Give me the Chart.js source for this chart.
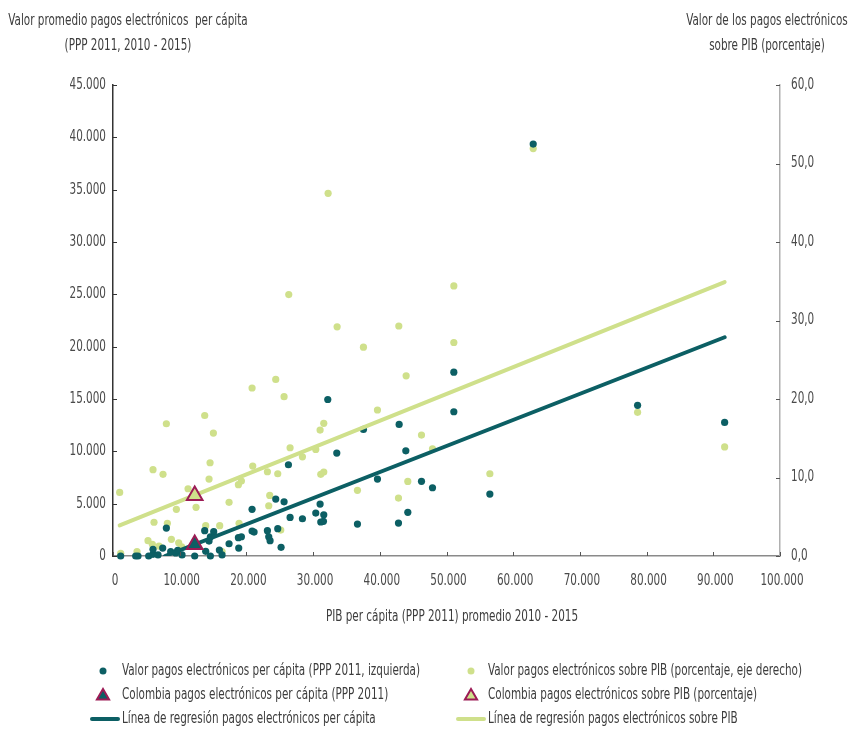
<!DOCTYPE html>
<html>
<head>
<meta charset="utf-8">
<script src="https://cdn.jsdelivr.net/npm/chart.js@4.4.1/dist/chart.umd.min.js"></script>
<style>
  html, body { margin: 0; padding: 0; background: #fff; }
  #wrap { width: 852px; height: 730px; position: relative; }
</style>
</head>
<body>
<div id="wrap"><canvas id="c" width="852" height="730"></canvas></div>
<script>
// PIB per cápita (PPP 2011) and valor pagos electrónicos per cápita (eje izquierdo)
const perCapitaX = [1150, 3400, 3750, 5350, 6000, 6000, 6750, 7450, 8000, 8650, 9400, 9700,
  10350, 12250, 13750, 13900, 14400, 14600, 14600, 15100, 15950, 16350, 17400, 18800, 18850,
  19250, 20850, 20850, 21150, 23150, 23350, 23550, 24400, 24700, 25200, 25650, 26300, 26550,
  28400, 30400, 31050, 31150, 31550, 31600, 32200, 33550, 36650, 37550, 39650, 42800, 42900,
  43900, 44200, 46250, 47900, 51100, 51100, 56500, 63000, 78650, 91700];
const perCapitaY = [0, 0, 0, 0, 160, 640, 100, 760, 2670, 410, 290, 540,
  100, 0, 2420, 450, 1430, 1840, 0, 2320, 570, 100, 1170, 1750, 760,
  1840, 4460, 2390, 2290, 2420, 1840, 1460, 5440, 2610, 830, 5180, 8720, 3690,
  3560, 4100, 4960, 3250, 3310, 3940, 14950, 9830, 3050, 12090, 7350, 3150, 12570,
  10050, 4170, 7130, 6520, 17560, 13780, 5920, 39360, 14400, 12760];

// PIB per cápita (PPP 2011) and pagos electrónicos sobre PIB, % (eje derecho)
const pibShareX = [1000, 1150, 3600, 5250, 5900, 6000, 6150, 6900, 7500, 8000, 8150, 8750,
  9500, 9850, 10300, 11250, 12450, 13750, 13900, 14400, 14550, 15050, 16000, 16350, 17400,
  18800, 18900, 19250, 20850, 20950, 23150, 23350, 23500, 24400, 24700, 25150, 25650, 26350,
  26550, 28400, 30400, 31050, 31150, 31600, 31600, 32250, 33600, 36650, 37550, 39650, 42800,
  42850, 43950, 44200, 46250, 47900, 51100, 51100, 56500, 63000, 78650, 91700];
const pibShareY = [8.1, 0.34, 0.55, 1.95, 1.49, 11.0, 4.3, 1.27, 10.4, 16.85, 4.16, 2.12,
  5.94, 1.69, 1.18, 8.57, 6.2, 17.9, 3.86, 9.8, 11.88, 15.66, 3.86, 0.55, 6.84,
  9.08, 4.16, 9.55, 21.4, 11.46, 10.73, 6.4, 7.72, 22.5, 10.48, 3.3, 20.3, 33.3,
  13.79, 12.64, 13.58, 16.04, 10.4, 16.9, 10.69, 46.2, 29.2, 8.36, 26.6, 18.6, 7.38,
  29.3, 22.95, 9.5, 15.4, 13.66, 34.4, 27.2, 10.48, 51.9, 18.3, 13.9];

// Colombia
const colombiaX = [12250];
const colombiaPerCapita = [1100];
const colombiaPibShare = [7.7];

// Regression lines (end points)
const trendPerCapitaX = [7800, 91700];
const trendPerCapitaY = [0, 20900];
const trendPibShareX = [1000, 91700];
const trendPibShareY = [3.9, 34.9];

// Axis ticks
const xTicks = [0, 10000, 20000, 30000, 40000, 50000, 60000, 70000, 80000, 90000, 100000];
const leftTicks = [0, 5000, 10000, 15000, 20000, 25000, 30000, 35000, 40000, 45000];
const rightTicks = [0, 10, 20, 30, 40, 50, 60];

// Texts
const leftTitle = ['Valor promedio pagos electrónicos  per cápita', '(PPP 2011, 2010 - 2015)'];
const rightTitle = ['Valor de los pagos electrónicos', 'sobre PIB (porcentaje)'];
const xTitle = 'PIB per cápita (PPP 2011) promedio 2010 - 2015';
const legendLabels = [
  'Valor pagos electrónicos per cápita (PPP 2011, izquierda)',
  'Valor pagos electrónicos sobre PIB (porcentaje, eje derecho)',
  'Colombia pagos electrónicos per cápita (PPP 2011)',
  'Colombia pagos electrónicos sobre PIB (porcentaje)',
  'Línea de regresión pagos electrónicos per cápita',
  'Línea de regresión pagos electrónicos sobre PIB'
];

const TEAL = '#0c5f64';
const LIME = '#cfe08b';
const CRIMSON = '#9c1b55';
const TEXT = '#3c3c3c';
const TICK_TEXT = '#4a4a4a';
const FONT = "'Liberation Sans Narrow', 'DejaVu Sans Condensed', 'Arial Narrow', 'Liberation Sans', sans-serif";

const pts = (xs, ys) => xs.map((x, i) => ({ x, y: ys[i] }));
const thousands = v => String(Math.round(v)).replace(/\B(?=(\d{3})+(?!\d))/g, '.');
const decimalComma = v => v.toFixed(1).replace('.', ',');

// draw text horizontally compressed by a common factor
let squeeze = 1;
function drawText(ctx, str, x, y, align) {
  ctx.save();
  ctx.translate(x, y);
  ctx.scale(squeeze, 1);
  ctx.textAlign = align;
  ctx.textBaseline = 'middle';
  ctx.fillText(str, 0, 0);
  ctx.restore();
}

const decor = {
  id: 'decor',
  afterDraw(chart) {
    const ctx = chart.ctx;
    const a = chart.chartArea;
    const sx = chart.scales.x, sy = chart.scales.y, sy1 = chart.scales.y1;
    ctx.save();

    // inner tick marks
    ctx.lineWidth = 1;
    ctx.strokeStyle = '#333';
    leftTicks.forEach(v => {
      const p = Math.round(sy.getPixelForValue(v)) + 0.5;
      ctx.beginPath(); ctx.moveTo(a.left, p); ctx.lineTo(a.left + 4, p); ctx.stroke();
    });
    ctx.strokeStyle = '#555';
    rightTicks.forEach(v => {
      const p = Math.round(sy1.getPixelForValue(v)) + 0.5;
      ctx.beginPath(); ctx.moveTo(a.right - 4, p); ctx.lineTo(a.right, p); ctx.stroke();
    });
    xTicks.forEach(v => {
      const p = Math.round(sx.getPixelForValue(v)) + 0.5;
      ctx.beginPath(); ctx.moveTo(p, a.bottom); ctx.lineTo(p, a.bottom - 4); ctx.stroke();
    });

    ctx.font = '15px ' + FONT;
    squeeze = 298 / ctx.measureText(legendLabels[0]).width;

    // tick labels, placed by the scales
    ctx.fillStyle = TICK_TEXT;
    leftTicks.forEach(v => drawText(ctx, thousands(v), a.left - 7, sy.getPixelForValue(v), 'right'));
    rightTicks.forEach(v => drawText(ctx, decimalComma(v), a.right + 11, sy1.getPixelForValue(v), 'left'));
    xTicks.forEach(v => drawText(ctx, thousands(v), sx.getPixelForValue(v) + 2, a.bottom + 25, 'center'));

    // titles and legend
    ctx.fillStyle = TEXT;
    drawText(ctx, leftTitle[0], 128, 21, 'center');
    drawText(ctx, leftTitle[1], 128, 46, 'center');
    drawText(ctx, rightTitle[0], 767, 21, 'center');
    drawText(ctx, rightTitle[1], 767, 46, 'center');
    drawText(ctx, xTitle, 452, 617, 'center');

    const rows = [671, 695, 719];
    const colMark = [103, 471];
    const colText = [122, 488];
    legendLabels.forEach((label, i) => {
      const r = Math.floor(i / 2), c = i % 2;
      const y = rows[r];
      const color = c === 0 ? TEAL : LIME;
      if (r === 0) {
        ctx.beginPath(); ctx.arc(colMark[c], y, 3.5, 0, Math.PI * 2);
        ctx.fillStyle = color; ctx.fill();
      } else if (r === 1) {
        const cx = colMark[c], cy = y + 1, s = 7;
        ctx.beginPath();
        ctx.moveTo(cx, cy - s);
        ctx.lineTo(cx + s * 0.87, cy + s * 0.5);
        ctx.lineTo(cx - s * 0.87, cy + s * 0.5);
        ctx.closePath();
        ctx.fillStyle = color; ctx.fill();
        ctx.lineWidth = 2; ctx.strokeStyle = CRIMSON; ctx.stroke();
      } else {
        ctx.beginPath();
        ctx.moveTo(colMark[c] - 11 + (c ? -2 : 0), y);
        ctx.lineTo(colText[c] - 4, y);
        ctx.lineWidth = 4; ctx.lineCap = 'round'; ctx.strokeStyle = color; ctx.stroke();
      }
      ctx.fillStyle = TEXT;
      drawText(ctx, label, colText[c], y, 'left');
    });
    ctx.restore();
  }
};

new Chart(document.getElementById('c'), {
  type: 'scatter',
  data: {
    datasets: [
      {
        label: legendLabels[2], data: pts(colombiaX, colombiaPerCapita), yAxisID: 'y',
        pointStyle: 'triangle', pointRadius: 9, borderWidth: 2,
        backgroundColor: TEAL, borderColor: CRIMSON, order: 0, clip: false
      },
      {
        label: legendLabels[3], data: pts(colombiaX, colombiaPibShare), yAxisID: 'y1',
        pointStyle: 'triangle', pointRadius: 9, borderWidth: 2,
        backgroundColor: LIME, borderColor: CRIMSON, order: 0, clip: false
      },
      {
        label: legendLabels[4], data: pts(trendPerCapitaX, trendPerCapitaY), yAxisID: 'y',
        showLine: true, pointRadius: 0, borderWidth: 4, borderColor: TEAL,
        borderCapStyle: 'round', order: 1
      },
      {
        label: legendLabels[5], data: pts(trendPibShareX, trendPibShareY), yAxisID: 'y1',
        showLine: true, pointRadius: 0, borderWidth: 4, borderColor: LIME,
        borderCapStyle: 'round', order: 1
      },
      {
        label: legendLabels[0], data: pts(perCapitaX, perCapitaY), yAxisID: 'y',
        pointRadius: 3.6, borderWidth: 0, backgroundColor: TEAL, order: 2, clip: false
      },
      {
        label: legendLabels[1], data: pts(pibShareX, pibShareY), yAxisID: 'y1',
        pointRadius: 3.6, borderWidth: 0, backgroundColor: LIME, order: 3, clip: false
      }
    ]
  },
  options: {
    responsive: false,
    animation: false,
    events: [],
    layout: { padding: { top: 85, left: 0, right: 0, bottom: 0 } },
    plugins: { legend: { display: false }, tooltip: { enabled: false } },
    scales: {
      x: {
        type: 'linear', min: 0, max: 100000,
        afterBuildTicks: s => { s.ticks = xTicks.map(v => ({ value: v })); },
        afterFit: s => { s.height = 174; },
        grid: { display: false, drawTicks: false },
        border: { display: true, color: '#8a8a8a', width: 1.5 },
        ticks: { display: false }
      },
      y: {
        type: 'linear', position: 'left', min: 0, max: 45000,
        afterBuildTicks: s => { s.ticks = leftTicks.map(v => ({ value: v })); },
        afterFit: s => { s.width = 113; },
        grid: { display: false, drawTicks: false },
        border: { display: true, color: '#333', width: 1.5 },
        ticks: { display: false }
      },
      y1: {
        type: 'linear', position: 'right', min: 0, max: 60,
        afterBuildTicks: s => { s.ticks = rightTicks.map(v => ({ value: v })); },
        afterFit: s => { s.width = 72; },
        grid: { display: false, drawTicks: false },
        border: { display: true, color: '#b0b0b0', width: 1.5 },
        ticks: { display: false }
      }
    }
  },
  plugins: [decor]
});
</script>
</body>
</html>
